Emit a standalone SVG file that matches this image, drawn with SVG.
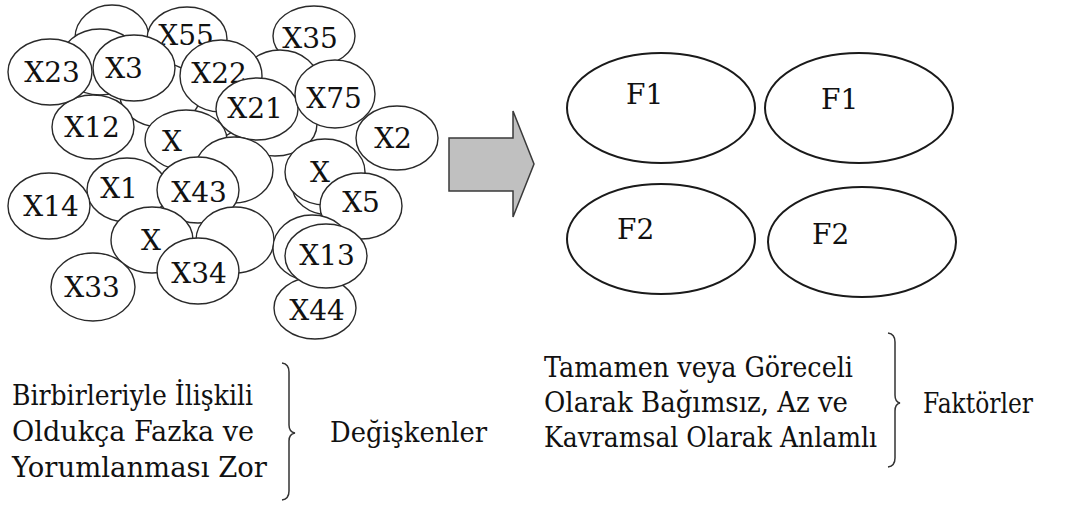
<svg xmlns="http://www.w3.org/2000/svg" width="1071" height="505" viewBox="0 0 1071 505">
<style>
text{font-family:"DejaVu Serif",serif;font-size:28px;fill:#111}
.v ellipse{fill:#fff;stroke:#2a2a2a;stroke-width:1.4}
.v text{text-anchor:middle}
.f ellipse{fill:#fff;stroke:#1a1a1a;stroke-width:2}
.br{fill:none;stroke:#333;stroke-width:1.5}
</style>
<rect width="1071" height="505" fill="#fff"/>
<g class="v" id="cluster">
<g id="b1"><ellipse cx="112" cy="38" rx="37" ry="33"/></g>
<g id="b2"><ellipse cx="100" cy="62" rx="40" ry="33"/></g>
<g id="x55"><ellipse cx="187" cy="39" rx="40" ry="32"/><text x="186" y="45">X55</text></g>
<g id="x35"><ellipse cx="314" cy="36" rx="41" ry="30"/><text x="310" y="48">X35</text></g>
<g id="b4"><ellipse cx="280" cy="85" rx="40" ry="35"/></g>
<g id="b6"><ellipse cx="205" cy="110" rx="40" ry="30"/></g>
<g id="b3"><ellipse cx="160" cy="95" rx="40" ry="32"/></g>
<g id="x12"><ellipse cx="93" cy="127" rx="41" ry="32"/><text x="92" y="137">X12</text></g>
<g id="x23"><ellipse cx="50" cy="72" rx="42" ry="33"/><text x="52" y="82">X23</text></g>
<g id="x3"><ellipse cx="134" cy="68" rx="41" ry="33"/><text x="124" y="78">X3</text></g>
<g id="x22"><ellipse cx="221" cy="76" rx="41" ry="36"/><text x="219" y="83">X22</text></g>
<g id="b5"><ellipse cx="275" cy="124" rx="42" ry="32"/></g>
<g id="x21"><ellipse cx="257" cy="109" rx="41" ry="31"/><text x="255" y="118">X21</text></g>
<g id="x75"><ellipse cx="335" cy="94" rx="40" ry="34"/><text x="334" y="108">X75</text></g>
<g id="x2"><ellipse cx="397" cy="138" rx="41" ry="32"/><text x="393" y="148">X2</text></g>
<g id="xa"><ellipse cx="186" cy="140" rx="41" ry="30"/><text x="172" y="151">X</text></g>
<g id="b10"><ellipse cx="234" cy="170" rx="39" ry="33"/></g>
<g id="b7"><ellipse cx="330" cy="185" rx="38" ry="30"/></g>
<g id="xb"><ellipse cx="325" cy="172" rx="40" ry="33"/><text x="320" y="182">X</text></g>
<g id="x5"><ellipse cx="361" cy="206" rx="41" ry="33"/><text x="361" y="212">X5</text></g>
<g id="x1"><ellipse cx="127" cy="190" rx="40" ry="32"/><text x="119" y="198">X1</text></g>
<g id="x14"><ellipse cx="49" cy="206" rx="41" ry="33"/><text x="51" y="216">X14</text></g>
<g id="x43"><ellipse cx="198" cy="190" rx="41" ry="33"/><text x="199" y="202">X43</text></g>
<g id="b9"><ellipse cx="235" cy="240" rx="39" ry="33"/></g>
<g id="xc"><ellipse cx="152" cy="240" rx="41" ry="33"/><text x="151" y="250">X</text></g>
<g id="x33"><ellipse cx="93" cy="287" rx="42" ry="34"/><text x="92" y="297">X33</text></g>
<g id="x34"><ellipse cx="198" cy="271" rx="41" ry="33"/><text x="199" y="283">X34</text></g>
<g id="b8"><ellipse cx="312" cy="248" rx="39" ry="33"/></g>
<g id="x44"><ellipse cx="315" cy="308" rx="41" ry="31"/><text x="317" y="320">X44</text></g>
<g id="x13"><ellipse cx="326" cy="256" rx="41" ry="32"/><text x="327" y="265">X13</text></g>
</g>
<g id="connectors">
<polygon points="449,138 513,138 513,111 534,164 513,217 513,191 449,191" fill="#c0c0c0" stroke="#3a3a3a" stroke-width="1.5"/>
</g>
<g class="f" id="factors">
<g id="f1a"><ellipse cx="661" cy="108" rx="94" ry="55"/><text x="626" y="104">F1</text></g>
<g id="f1b"><ellipse cx="859" cy="108" rx="94" ry="55"/><text x="821" y="109">F1</text></g>
<g id="f2a"><ellipse cx="661" cy="239" rx="94" ry="55"/><text x="617" y="239">F2</text></g>
<g id="f2b"><ellipse cx="862" cy="242" rx="94" ry="55"/><text x="812" y="244">F2</text></g>
</g>
<g id="left-caption">
<text x="12" y="405" textLength="241" lengthAdjust="spacingAndGlyphs">Birbirleriyle İlişkili</text>
<text x="12" y="441" textLength="242" lengthAdjust="spacingAndGlyphs">Oldukça Fazka ve</text>
<text x="12" y="477" textLength="255" lengthAdjust="spacingAndGlyphs">Yorumlanması Zor</text>
<path class="br" d="M282,363 Q289,364 289,372 L289,425 Q289,432 295,433 Q289,434 289,441 L289,491 Q289,499 282,500"/>
<text x="330" y="442" textLength="157" lengthAdjust="spacingAndGlyphs">Değişkenler</text>
</g>
<g id="right-caption">
<text x="544" y="377" textLength="309" lengthAdjust="spacingAndGlyphs">Tamamen veya Göreceli</text>
<text x="544" y="412" textLength="304" lengthAdjust="spacingAndGlyphs">Olarak Bağımsız, Az ve</text>
<text x="544" y="447" textLength="333" lengthAdjust="spacingAndGlyphs">Kavramsal Olarak Anlamlı</text>
<path class="br" d="M888,333 Q895,334 895,342 L895,395 Q895,402 900,403 Q895,404 895,411 L895,458 Q895,466 888,467"/>
<text x="923" y="413" textLength="110" lengthAdjust="spacingAndGlyphs">Faktörler</text>
</g>
</svg>
